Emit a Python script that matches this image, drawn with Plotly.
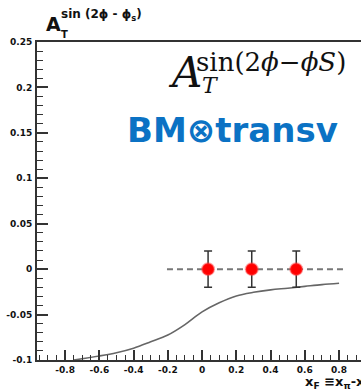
import plotly.graph_objects as go

# ---- data ----
point_x = [0.035, 0.29, 0.55]
point_y = [0.0, 0.0, 0.0]
point_err = [0.02, 0.02, 0.02]

ref_x = [-0.205, 0.835]
ref_y = [0.0, 0.0]

curve_x = [-0.75, -0.6, -0.5, -0.4, -0.3, -0.2, -0.1, 0.0, 0.1, 0.2, 0.3, 0.4, 0.5, 0.6, 0.7, 0.8]
curve_y = [-0.1, -0.0956, -0.092, -0.087, -0.080, -0.0725, -0.061, -0.047, -0.037, -0.0295,
           -0.0255, -0.0228, -0.021, -0.019, -0.017, -0.0155]

y_ticks = [-0.1, -0.05, 0, 0.05, 0.1, 0.15, 0.2, 0.25]
y_ticktext = ["-0.1", "-0.05", "0", "0.05", "0.1", "0.15", "0.2", "0.25"]
x_ticks = [-0.8, -0.6, -0.4, -0.2, 0, 0.2, 0.4, 0.6, 0.8]
x_ticktext = ["-0.8", "-0.6", "-0.4", "-0.2", "0", "0.2", "0.4", "0.6", "0.8"]

W, H = 361, 391
ML, MR, MT, MB = 37, 0, 42, 31
PW, PH = W - ML - MR, H - MT - MB


def px(x):
    return (x - ML) / PW


def py(y):
    return (H - MB - y) / PH


fig = go.Figure()
fig.add_trace(go.Scatter(x=curve_x, y=curve_y, mode="lines",
                         line=dict(color="#666666", width=1.6, shape="spline", smoothing=1.0),
                         hoverinfo="skip"))
fig.add_trace(go.Scatter(x=ref_x, y=ref_y, mode="lines", line=dict(color="#777777", width=2, dash="6px,4px"),
                         hoverinfo="skip"))
fig.add_trace(go.Scatter(x=point_x, y=point_y, mode="markers",
                         marker=dict(color="#ff0000", size=12, line=dict(color="rgba(255,60,60,0.45)", width=2)),
                         error_y=dict(type="data", array=point_err, color="#333333", thickness=1.5, width=4)))

tickfont = dict(family="DejaVu Sans", size=9, color="#111111", weight="bold")

fig.update_layout(
    width=W, height=H,
    margin=dict(l=ML, r=MR, t=MT, b=MB),
    paper_bgcolor="white", plot_bgcolor="white",
    showlegend=False,
    xaxis=dict(range=[-0.964, 0.928], showgrid=False, zeroline=False,
               showline=True, linecolor="#333333", linewidth=2, mirror=True,
               tickmode="array", tickvals=x_ticks, ticktext=x_ticktext,
               ticks="inside", ticklen=10, tickwidth=1.5, tickcolor="#333333",
               minor=dict(dtick=0.05, tick0=0, ticks="inside", ticklen=5, tickcolor="#333333", tickwidth=1.2),
               tickfont=tickfont),
    yaxis=dict(range=[-0.1, 0.25], showgrid=False, zeroline=False,
               showline=True, linecolor="#333333", linewidth=2,
               tickmode="array", tickvals=y_ticks, ticktext=y_ticktext,
               ticks="inside", ticklen=11, tickwidth=1.5, tickcolor="#333333",
               minor=dict(dtick=0.01, tick0=0, ticks="inside", ticklen=6, tickcolor="#333333", tickwidth=1.2),
               tickfont=tickfont, ticklabelstandoff=1),
)

ann = []
# top-left axis title
ann.append(dict(x=px(44), y=py(37), xanchor="left", yanchor="bottom", text="<b>A</b>",
                font=dict(family="DejaVu Sans", size=19, color="#111111")))
ann.append(dict(x=px(59), y=py(42), xanchor="left", yanchor="bottom", text="<b>T</b>",
                font=dict(family="DejaVu Sans", size=10, color="#111111")))
ann.append(dict(x=px(59), y=py(25), xanchor="left", yanchor="bottom", text="<b>sin (2ϕ - ϕ<sub>s</sub>)</b>",
                font=dict(family="DejaVu Sans", size=12, color="#111111")))
# big formula
ann.append(dict(x=px(166), y=py(99), xanchor="left", yanchor="bottom", text="<i>A</i>",
                font=dict(family="DejaVu Serif", size=42, color="#111111")))
ann.append(dict(x=px(200), y=py(100), xanchor="left", yanchor="bottom", text="<i>T</i>",
                font=dict(family="DejaVu Serif", size=22, color="#111111")))
ann.append(dict(x=px(194), y=py(79), xanchor="left", yanchor="bottom", text="sin(2<i>ϕ</i>−<i>ϕS</i>)",
                font=dict(family="DejaVu Serif", size=26, color="#111111")))
# BM x transv
ann.append(dict(x=px(125), y=py(130), xanchor="left", yanchor="middle", text="<b>BM⊗transv</b>",
                font=dict(family="DejaVu Sans", size=34, color="#0b72c4")))
# x axis title
ann.append(dict(x=px(303), y=py(382), xanchor="left", yanchor="middle",
                text="<b>x<sub>F</sub> ≡x<sub>π</sub>-x<sub>p</sub></b>",
                font=dict(family="DejaVu Sans", size=13, color="#111111")))
for a in ann:
    a.update(xref="paper", yref="paper", showarrow=False)
fig.update_layout(annotations=ann)

fig.write_html("out.html")
